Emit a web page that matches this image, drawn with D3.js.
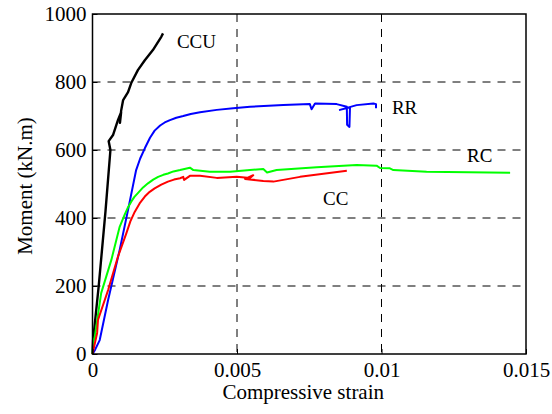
<!DOCTYPE html>
<html>
<head>
<meta charset="utf-8">
<script src="https://cdn.jsdelivr.net/npm/d3@7"></script>
<style>
  html, body { margin: 0; padding: 0; background: #fff; }
  svg { display: block; font-family: "Liberation Serif", "Times New Roman", serif; }
</style>
</head>
<body>
<div id="chart"></div>
<script>
// axis ticks
const xTicks = [0, 0.005, 0.01, 0.015];
const yTicks = [0, 200, 400, 600, 800, 1000];

// CCU (black)
const ccuStrain = [0, 0.00002, 0.000215, 0.00045, 0.00062, 0.00056, 0.00071, 0.00088, 0.00099, 0.00095, 0.00099, 0.00106, 0.00123, 0.00134, 0.00157, 0.00181, 0.00209, 0.00238, 0.00244];
const ccuMoment = [0, 40, 200, 420, 600, 626, 644, 688, 711, 680, 715, 747, 770, 797, 835, 864, 894, 933, 943];

// RR (blue)
const rrStrain = [0, 0.000087, 0.00025, 0.00054, 0.00094, 0.00123, 0.00151, 0.00165, 0.00181, 0.00199, 0.00215, 0.00234, 0.0025, 0.00268, 0.0029, 0.00314, 0.0034, 0.00372, 0.0043, 0.00487, 0.00545, 0.0066, 0.00752, 0.00758, 0.0077, 0.00845, 0.0088, 0.00881, 0.00889, 0.00891, 0.00856, 0.00914, 0.00972, 0.00981, 0.00981];
const rrMoment = [0, 12, 41, 159, 306, 424, 541, 575, 605, 636, 657, 672, 681, 688, 695, 700, 706, 711, 718, 723, 727, 732, 735, 720, 737, 735, 727, 674, 668, 726, 718, 732, 737, 735, 723];

// RC (green)
const rcStrain = [0, 0.00002, 0.00008, 0.0003, 0.00065, 0.00094, 0.00111, 0.00122, 0.00134, 0.00145, 0.00157, 0.00175, 0.00192, 0.0021, 0.00227, 0.00245, 0.00261, 0.0028, 0.00303, 0.00337, 0.00349, 0.00406, 0.00476, 0.00545, 0.00591, 0.00604, 0.00637, 0.00776, 0.00914, 0.00983, 0.00995, 0.01029, 0.01041, 0.01156, 0.01445];
const rcMoment = [0, 35, 51, 179, 276, 374, 409, 430, 448, 462, 473, 490, 502, 513, 521, 527, 531, 537, 541, 548, 541, 536, 536, 541, 544, 534, 541, 549, 556, 554, 547, 546, 541, 536, 533];

// CC (red)
const ccStrain = [0, 0.00016, 0.00019, 0.00054, 0.00088, 0.00117, 0.00131, 0.00146, 0.00163, 0.00181, 0.00198, 0.00215, 0.00238, 0.00261, 0.00282, 0.00303, 0.00314, 0.00317, 0.00337, 0.00372, 0.0043, 0.00499, 0.00545, 0.00556, 0.00528, 0.00591, 0.00626, 0.00718, 0.0088];
const ccMoment = [0, 62, 100, 188, 286, 355, 390, 418, 443, 463, 477, 487, 498, 507, 513, 517, 521, 512, 524, 524, 518, 521, 518, 526, 515, 509, 507, 521, 539];

const seriesNames = ["CCU", "RR", "RC", "CC"];
const seriesColors = ["#000000", "#0000ff", "#00ff00", "#ff0000"];
// label anchor (strain, moment) for each series
const labelStrain = [0.00292, 0.01036, 0.01296, 0.00798];
const labelMoment = [900, 706, 565, 438];

const W = 552, H = 414;
const margin = { top: 14, right: 26, bottom: 60, left: 92.5 };
const width = W - margin.left - margin.right;
const height = H - margin.top - margin.bottom;

const svg = d3.select("#chart").append("svg")
  .attr("width", W)
  .attr("height", H);

const root = svg.append("g").attr("transform", `translate(${margin.left},${margin.top})`);

const x = d3.scaleLinear().domain([0, 0.015]).range([0, width]);
const y = d3.scaleLinear().domain([0, 1000]).range([height, 0]);

// dashed grid
root.append("g")
  .selectAll("line")
  .data(xTicks.slice(1, -1))
  .join("line")
  .attr("x1", (d) => x(d)).attr("x2", (d) => x(d))
  .attr("y1", 0).attr("y2", height)
  .attr("stroke", "#000")
  .attr("stroke-width", 1)
  .attr("stroke-dasharray", "8,7");

root.append("g")
  .selectAll("line")
  .data(yTicks.slice(1, -1))
  .join("line")
  .attr("x1", 0).attr("x2", width)
  .attr("y1", (d) => y(d)).attr("y2", (d) => y(d))
  .attr("stroke", "#000")
  .attr("stroke-width", 1)
  .attr("stroke-dasharray", "8,7");

// curves
const series = [
  { strain: ccuStrain, moment: ccuMoment },
  { strain: rrStrain, moment: rrMoment },
  { strain: rcStrain, moment: rcMoment },
  { strain: ccStrain, moment: ccMoment },
];

const line = d3.line()
  .x((d) => x(d[0]))
  .y((d) => y(d[1]));

series.forEach((s, i) => {
  root.append("path")
    .datum(s.strain.map((v, k) => [v, s.moment[k]]))
    .attr("fill", "none")
    .attr("stroke", seriesColors[i])
    .attr("stroke-width", i === 0 ? 2.4 : 2)
    .attr("stroke-linejoin", "round")
    .attr("d", line);
});

// axes (inward ticks)
const xAxis = root.append("g")
  .attr("transform", `translate(0,${height})`)
  .call(d3.axisBottom(x).tickValues(xTicks).tickFormat(d3.format("")).tickSizeInner(-5).tickSizeOuter(0).tickPadding(8));
const yAxis = root.append("g")
  .call(d3.axisLeft(y).tickValues(yTicks).tickFormat(d3.format("d")).tickSizeInner(-5).tickSizeOuter(0).tickPadding(6));

[xAxis, yAxis].forEach((a) => {
  a.attr("font-family", null);
  a.select(".domain").remove();
  a.selectAll("text")
    .attr("font-family", "Liberation Serif")
    .attr("font-size", "21px")
    .attr("fill", "#000");
  a.selectAll("line").attr("stroke", "#000");
});

// frame
root.append("rect")
  .attr("x", 0).attr("y", 0)
  .attr("width", width).attr("height", height)
  .attr("fill", "none")
  .attr("stroke", "#000")
  .attr("stroke-width", 1.5);

// series labels
root.append("g")
  .selectAll("text")
  .data(seriesNames)
  .join("text")
  .attr("x", (_, i) => x(labelStrain[i]))
  .attr("y", (_, i) => y(labelMoment[i]))
  .attr("font-size", "19px")
  .attr("fill", "#000")
  .text((d) => d);

// axis titles
svg.append("text")
  .attr("x", margin.left + width / 2 - 6)
  .attr("y", 399)
  .attr("text-anchor", "middle")
  .attr("font-size", "21px")
  .text("Compressive strain");

svg.append("text")
  .attr("transform", `translate(32,${margin.top + height / 2 + 2}) rotate(-90)`)
  .attr("text-anchor", "middle")
  .attr("font-size", "21px")
  .text("Moment (kN.m)");
</script>
</body>
</html>
